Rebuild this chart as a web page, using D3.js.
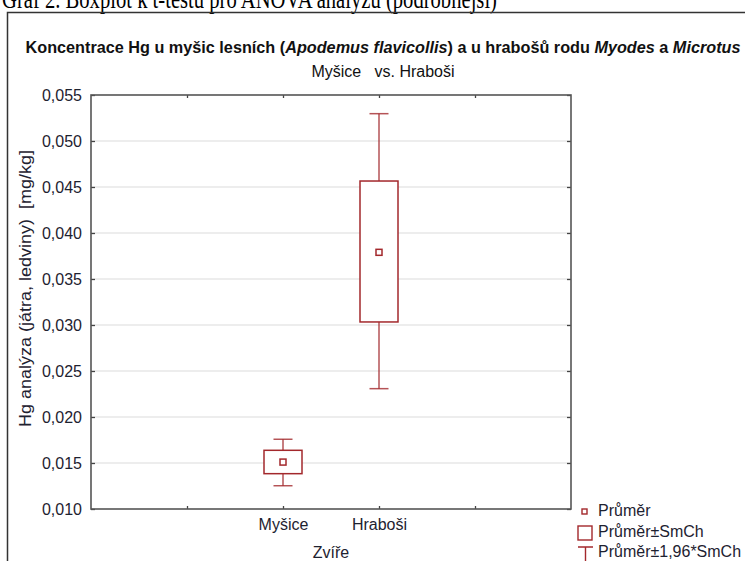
<!DOCTYPE html>
<html><head><meta charset="utf-8">
<script src="https://cdn.jsdelivr.net/npm/d3@7"></script>
<style>body{margin:0;background:#fff}svg{display:block}</style>
</head><body>
<script>
// ---- data ----
const slots = ["s0", "Myšice", "Hraboši", "s3"];
const slotLabels = ["", "Myšice", "Hraboši", ""];
const categories = ["Myšice", "Hraboši"];
const means = [0.0151, 0.0379];
const boxHigh = [0.01638, 0.04565];
const boxLow = [0.01384, 0.03033];
const whiskHigh = [0.01758, 0.05297];
const whiskLow = [0.01253, 0.02308];
const yTicks = [0.010, 0.015, 0.020, 0.025, 0.030, 0.035, 0.040, 0.045, 0.050, 0.055];
const yTickLabels = ["0,010", "0,015", "0,020", "0,025", "0,030", "0,035", "0,040", "0,045", "0,050", "0,055"];
const legendLabels = ["Průměr", "Průměr±SmCh", "Průměr±1,96*SmCh"];

const W = 745, H = 561;
const red = "#a3282c";
const font = "'Liberation Sans', Arial, sans-serif";
const svg = d3.select("body").append("svg").attr("width", W).attr("height", H);

// document heading (cropped at top in the source)
svg.append("text").attr("x", 2).attr("y", 8)
  .attr("font-family", "'Liberation Serif', 'Times New Roman', serif").attr("font-size", 27)
  .attr("textLength", 495).attr("lengthAdjust", "spacingAndGlyphs")
  .text("Graf 2. Boxplot k t-testu pro ANOVA analýzu (podrobnější)");

// frame
svg.append("path").attr("d", `M7.5,${H}V12.5H${W}`).attr("fill", "none").attr("stroke", "#333").attr("stroke-width", 1.5);

const m = {l: 91, t: 95, r: 571, b: 509};
const x = d3.scalePoint().domain(slots).range([m.l, m.r]).padding(1);
const y = d3.scaleLinear().domain([0.010, 0.055]).range([m.b, m.t]);

// title
const title = svg.append("text").attr("x", 383).attr("y", 53).attr("text-anchor", "middle")
  .attr("font-family", font).attr("font-size", 16).attr("font-weight", "bold").attr("fill", "#111")
  .attr("textLength", 715).attr("lengthAdjust", "spacingAndGlyphs");
[["Koncentrace Hg u myšic lesních (", false], ["Apodemus flavicollis", true], [") a u hrabošů rodu ", false],
 ["Myodes", true], [" a ", false], ["Microtus", true]].forEach(([t, it]) => {
  title.append("tspan").attr("font-style", it ? "italic" : "normal").text(t);
});
svg.append("text").attr("x", 383).attr("y", 77).attr("text-anchor", "middle")
  .attr("font-family", font).attr("font-size", 16).attr("fill", "#111")
  .attr("xml:space", "preserve").style("white-space", "pre").text("Myšice   vs. Hraboši");

// gridlines
svg.append("g").selectAll("line").data(yTicks.filter(v => v > 0.0101 && v < 0.0549)).join("line")
  .attr("x1", m.l).attr("x2", m.r).attr("y1", d => y(d)).attr("y2", d => y(d))
  .attr("stroke", "#dcdcdc").attr("stroke-width", 1.2);

// axes
const axisStyle = g => {
  g.select(".domain").remove();
  g.selectAll(".tick line").attr("stroke", "#444").attr("stroke-width", 1.3);
  g.selectAll(".tick text").attr("font-family", font).attr("font-size", 16).attr("fill", "#1e2230");
};
svg.append("g").attr("transform", `translate(${m.l},0)`)
  .call(d3.axisRight(y).tickValues(yTicks).tickSize(4).tickFormat(() => ""))
  .call(axisStyle);
svg.append("g").attr("transform", `translate(${m.l},0)`)
  .call(d3.axisLeft(y).tickValues(yTicks).tickSize(0).tickPadding(9).tickFormat((d, i) => yTickLabels[i]))
  .call(axisStyle);
svg.append("g").attr("transform", `translate(${m.r},0)`)
  .call(d3.axisLeft(y).tickValues(yTicks).tickSize(4).tickFormat(() => ""))
  .call(axisStyle);
svg.append("g").attr("transform", `translate(0,${m.b})`)
  .call(d3.axisTop(x).tickSize(3).tickFormat(() => ""))
  .call(axisStyle);
svg.append("g").attr("transform", `translate(0,${m.b})`)
  .call(d3.axisBottom(x).tickSize(0).tickPadding(10).tickFormat((d, i) => slotLabels[i]))
  .call(axisStyle);
svg.append("g").attr("transform", `translate(0,${m.t})`)
  .call(d3.axisBottom(x).tickSize(3).tickFormat(() => ""))
  .call(axisStyle);

// plot frame
svg.append("rect").attr("x", m.l).attr("y", m.t).attr("width", m.r - m.l).attr("height", m.b - m.t)
  .attr("fill", "none").attr("stroke", "#555").attr("stroke-width", 1.6);

// axis titles
svg.append("text").attr("x", (m.l + m.r) / 2).attr("y", 558).attr("text-anchor", "middle")
  .attr("font-family", font).attr("font-size", 16).attr("fill", "#1e2230").text("Zvíře");
svg.append("text").attr("transform", "translate(31,427) rotate(-90)")
  .attr("font-family", font).attr("font-size", 16.5).attr("fill", "#1e2230")
  .attr("textLength", 277).attr("lengthAdjust", "spacingAndGlyphs")
  .attr("xml:space", "preserve").style("white-space", "pre").text("Hg analýza (játra, ledviny)  [mg/kg]");

// boxes
const boxW = 38, capW = 19, meanS = 6;
const g = svg.append("g").attr("stroke", red).attr("fill", "none").attr("stroke-width", 1.5);
categories.forEach((c, i) => {
  const cx = x(c);
  g.append("line").attr("x1", cx).attr("x2", cx).attr("y1", y(whiskHigh[i])).attr("y2", y(boxHigh[i])).attr("stroke-opacity", 0.8);
  g.append("line").attr("x1", cx).attr("x2", cx).attr("y1", y(boxLow[i])).attr("y2", y(whiskLow[i])).attr("stroke-opacity", 0.8);
  g.append("line").attr("x1", cx - capW / 2).attr("x2", cx + capW / 2).attr("y1", y(whiskHigh[i])).attr("y2", y(whiskHigh[i])).attr("stroke-opacity", 0.8);
  g.append("line").attr("x1", cx - capW / 2).attr("x2", cx + capW / 2).attr("y1", y(whiskLow[i])).attr("y2", y(whiskLow[i])).attr("stroke-opacity", 0.8);
  g.append("rect").attr("x", cx - boxW / 2).attr("width", boxW)
    .attr("y", y(boxHigh[i])).attr("height", y(boxLow[i]) - y(boxHigh[i])).attr("fill", "#fff");
  g.append("rect").attr("x", cx - meanS / 2).attr("y", y(means[i]) - meanS / 2)
    .attr("width", meanS).attr("height", meanS).attr("fill", "#fff");
});

// legend
const lg = svg.append("g");
const ty = [516, 537, 557];
legendLabels.forEach((t, i) => {
  lg.append("text").attr("x", 598).attr("y", ty[i]).attr("font-family", font).attr("font-size", 16)
    .attr("fill", "#1e2230").text(t);
});
lg.append("rect").attr("x", 582).attr("y", 509).attr("width", 5).attr("height", 5)
  .attr("fill", "#fff").attr("stroke", red).attr("stroke-width", 1.4);
lg.append("rect").attr("x", 578).attr("y", 526).attr("width", 14).attr("height", 14)
  .attr("fill", "#fff").attr("stroke", red).attr("stroke-width", 1.4);
lg.append("path").attr("d", "M578,547H593M585.5,547V561").attr("fill", "none")
  .attr("stroke", red).attr("stroke-width", 1.4);
</script>
</body></html>
